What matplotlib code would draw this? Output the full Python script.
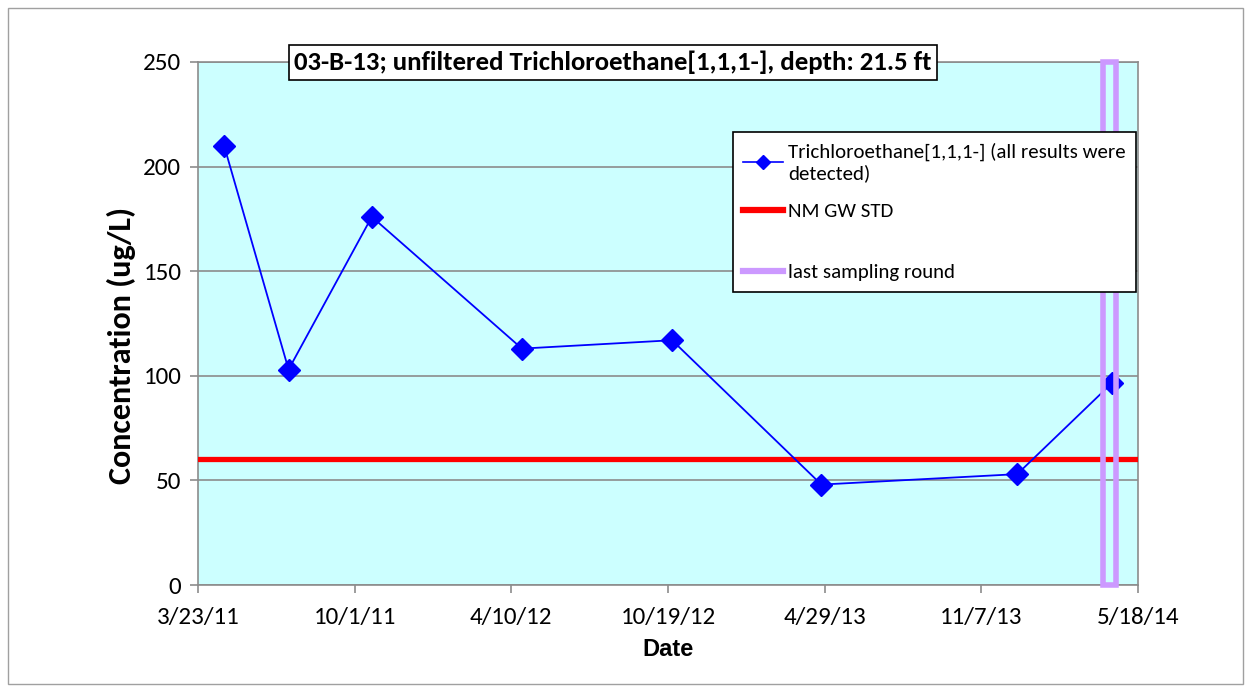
import matplotlib
matplotlib.use("Agg")
import matplotlib.pyplot as plt
import matplotlib.dates as mdates
from matplotlib.patches import Rectangle
from matplotlib.lines import Line2D
from matplotlib.offsetbox import DrawingArea
import datetime as dt

dates = ["2011-04-24", "2011-07-12", "2011-10-22", "2012-04-23",
         "2012-10-24", "2013-04-25", "2013-12-21", "2014-04-16"]
values = [210, 103, 176, 113, 117, 48, 53, 96.5]
std_value = 60
last_round = "2014-04-13"
xtick_labels = ["3/23/11", "10/1/11", "4/10/12", "10/19/12", "4/29/13", "11/7/13", "5/18/14"]
ytick_values = [0, 50, 100, 150, 200, 250]
title = "03-B-13; unfiltered Trichloroethane[1,1,1-], depth: 21.5 ft"
series_label = "Trichloroethane[1,1,1-] (all results were\ndetected)"
legend_labels = [series_label, "NM GW STD", "last sampling round"]

CAL = ["Carlito", "Liberation Sans"]
ARIAL = ["Liberation Sans", "DejaVu Sans"]

xd = [dt.datetime.strptime(d, "%Y-%m-%d") for d in dates]
start = dt.datetime(2011, 3, 23)
ticks = [start + dt.timedelta(days=192 * i) for i in range(len(xtick_labels))]
xmin, xmax = ticks[0], ticks[-1]

W, H = 1251, 692
fig = plt.figure(figsize=(W / 100, H / 100), dpi=100)
fig.patch.set_facecolor("white")
fig.add_artist(Rectangle((8 / W, 8 / H), (W - 16) / W, (H - 16) / H,
                         transform=fig.transFigure, fill=False,
                         edgecolor="#A0A0A0", lw=1))

L, R, T, B = 198, 1138, 62, 585
ax = fig.add_axes([L / W, 1 - B / H, (R - L) / W, (B - T) / H])
ax.set_facecolor("#CCFFFF")
ax.set_xlim(mdates.date2num(xmin), mdates.date2num(xmax))
ax.set_ylim(0, 250)
ax.set_yticks(ytick_values)
ax.set_xticks([mdates.date2num(t) for t in ticks])
ax.set_xticklabels(xtick_labels)
ax.yaxis.grid(True, color="#8C8C8C", lw=1.2)
ax.set_axisbelow(True)
for s in ax.spines.values():
    s.set_color("#8C8C8C")
    s.set_linewidth(1.2)
ax.tick_params(axis="both", direction="out", length=6, color="#8C8C8C", width=1.2)
for lab in ax.get_xticklabels() + ax.get_yticklabels():
    lab.set_fontfamily(CAL)
    lab.set_fontsize(18)
ax.tick_params(axis="x", pad=10)
ax.tick_params(axis="y", pad=6)

ax.axhline(std_value, color="#FF0000", lw=3.8, zorder=3, solid_capstyle="round")
ax.plot(mdates.date2num(xd), values, color="#0000FF", lw=1.3, marker="D",
        markersize=11, markerfacecolor="#0000FF", markeredgecolor="#0000FF", zorder=4)

lr = mdates.date2num(dt.datetime.strptime(last_round, "%Y-%m-%d"))
half = 7.5
ax.add_patch(Rectangle((lr - half, 0), 2 * half, 250, fill=False,
                       edgecolor="#CC99FF", lw=4, zorder=5, clip_on=False))

ax.set_xlabel("Date", fontsize=17, fontweight="bold", family=ARIAL)
ax.xaxis.set_label_coords(0.5, -(650 - B) / (B - T))
ax.xaxis.label.set_va("center")
ax.set_ylabel("Concentration (ug/L)", fontsize=23, fontweight="bold", family=CAL)
ax.yaxis.set_label_coords(-(L - 121) / (R - L), (B - 345) / (B - T))
ax.yaxis.label.set_va("center")

fig.text(613 / W, 1 - 62.5 / H, title, ha="center", va="center", fontsize=19.3,
         fontweight="bold", family=CAL, zorder=10,
         bbox=dict(boxstyle="square,pad=0.2", facecolor="white", edgecolor="black", lw=1.2))

handles = [
    Line2D([], [], color="#0000FF", lw=1.2, marker="D", markersize=7),
    Line2D([], [], color="#FF0000", lw=4.5),
    Line2D([], [], color="#CC99FF", lw=4.5),
]
leg = ax.legend(handles, legend_labels, loc="upper left",
                bbox_to_anchor=((733 - L) / (R - L), 1 - (132 - T) / (B - T)),
                borderaxespad=0,
                prop=dict(family=CAL, size=15), frameon=True, fancybox=False,
                edgecolor="black", framealpha=1, handlelength=1.9, handletextpad=0.25,
                labelspacing=1.0, borderpad=0.5)
leg.get_frame().set_linewidth(1.2)
leg.set_zorder(6)
# extra gap before the last entry, as in the reference legend
try:
    col = leg._legend_handle_box.get_children()[0]
    rows = col.get_children()
    rows.insert(2, DrawingArea(0, 1.5))
except Exception:
    pass

fig.savefig("out.png", dpi=100, facecolor="white")
